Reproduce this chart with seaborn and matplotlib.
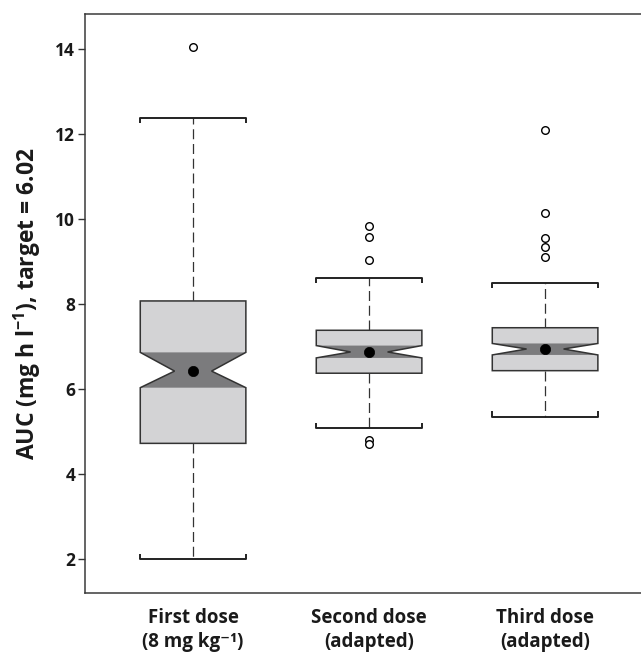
import numpy as np
import pandas as pd
import matplotlib
matplotlib.use("Agg")
import matplotlib.pyplot as plt
import seaborn as sns

# summary statistics
groups = ["First dose\n(8 mg kg\u207b\u00b9)", "Second dose\n(adapted)", "Third dose\n(adapted)"]
med = [6.42, 6.87, 6.94]
q1 = [4.72, 6.37, 6.43]
q3 = [8.07, 7.38, 7.44]
notch_lo = [6.03, 6.73, 6.80]
notch_hi = [6.86, 7.02, 7.07]
whis_lo = [2.00, 5.08, 5.35]
whis_hi = [12.38, 8.62, 8.49]
outliers = [
    [14.04],
    [9.84, 9.57, 9.03, 4.80, 4.71],
    [12.09, 10.13, 9.54, 9.34, 9.11],
]
y_ticks = [2, 4, 6, 8, 10, 12, 14]

sns.set_theme(style="ticks")
plt.rcParams["font.family"] = ["Open Sans", "DejaVu Sans"]
plt.rcParams["font.weight"] = "bold"
plt.rcParams["mathtext.fontset"] = "custom"
plt.rcParams["mathtext.rm"] = "Open Sans:bold"
plt.rcParams["mathtext.bf"] = "Open Sans:bold"
plt.rcParams["mathtext.default"] = "bf"

light = "#d3d3d5"
dark = "#7b7b7d"
edge = "#333333"
txt = "#1a1a1a"

fig = plt.figure(figsize=(6.41, 6.52), dpi=100)
ax = fig.add_axes([85 / 641, 1 - 593 / 652, 1 - 85 / 641, (593 - 14) / 652])

pos = np.arange(len(groups))
width = 0.6
hw = width / 2
waist = hw * 0.35

# whiskers and caps through matplotlib's bxp
stats = []
for i in range(len(groups)):
    stats.append({"med": med[i], "q1": q1[i], "q3": q3[i],
                  "whislo": whis_lo[i], "whishi": whis_hi[i], "fliers": []})
ax.bxp(stats, positions=pos, widths=width, showbox=False, showfliers=False,
       whiskerprops=dict(color=edge, linewidth=0.9, linestyle=(0, (8, 3.8))),
       capprops=dict(color="#222222", linewidth=1.4),
       capwidths=width, medianprops=dict(linestyle="none"))

# little end ticks on the caps
for i, p in enumerate(pos):
    ax.vlines([p - hw, p + hw], whis_hi[i] - 0.12, whis_hi[i], color="#222222", lw=1.4)
    ax.vlines([p - hw, p + hw], whis_lo[i], whis_lo[i] + 0.12, color="#222222", lw=1.4)

# notched boxes
for i, p in enumerate(pos):
    xs = [p - hw, p - hw, p - waist, p - hw, p - hw, p + hw, p + hw, p + waist, p + hw, p + hw]
    ys = [q1[i], notch_lo[i], med[i], notch_hi[i], q3[i], q3[i], notch_hi[i], med[i], notch_lo[i], q1[i]]
    ax.fill(xs, ys, facecolor=light, edgecolor="none", zorder=3)
    nx = [p - hw, p - waist, p - hw, p + hw, p + waist, p + hw]
    ny = [notch_lo[i], med[i], notch_hi[i], notch_hi[i], med[i], notch_lo[i]]
    ax.fill(nx, ny, facecolor=dark, edgecolor="none", zorder=3)
    ax.fill(xs, ys, facecolor="none", edgecolor=edge, linewidth=1.1, zorder=4)

# medians and outliers with seaborn
med_df = pd.DataFrame({"x": pos, "y": med})
sns.scatterplot(data=med_df, x="x", y="y", ax=ax, s=55, color="black",
                edgecolor="black", linewidth=0.5, zorder=5, legend=False)
out_df = pd.DataFrame({"x": [p for p, o in zip(pos, outliers) for _ in o],
                       "y": [v for o in outliers for v in o]})
sns.scatterplot(data=out_df, x="x", y="y", ax=ax, s=30, facecolor="white",
                edgecolor="black", linewidth=1.0, zorder=5, legend=False)

ax.set_xlim(-0.614, 2.545)
ax.set_ylim(1.2, 14.82)
ax.set_xticks(pos)
ax.set_xticklabels(groups, fontsize=13.5, fontweight="bold", color=txt, linespacing=1.25)
ax.set_yticks(y_ticks)
ax.set_yticklabels([str(t) for t in y_ticks], fontsize=12.5, fontweight="bold", color=txt)
ax.tick_params(axis="x", length=0, pad=11)
ax.tick_params(axis="y", length=5, width=1, color=edge, pad=2)
ax.set_xlabel("")
ax.set_ylabel("AUC (mg h l$^{-1}$), target = 6.02", fontsize=16.5, fontweight="bold", color=txt)
ax.yaxis.set_label_coords(-0.075, 0.5)

for s in ["left", "top", "bottom"]:
    ax.spines[s].set_color("#3a3a3a")
    ax.spines[s].set_linewidth(1.1)
ax.spines["right"].set_visible(False)

fig.savefig("out.png", dpi=100)
